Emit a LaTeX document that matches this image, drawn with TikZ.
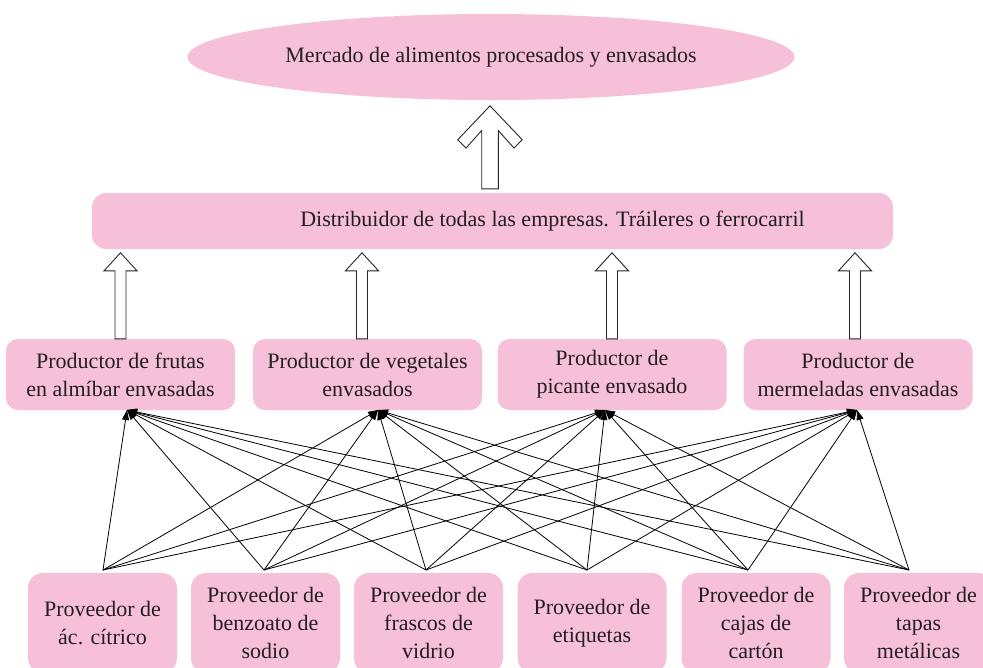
\documentclass[tikz,border=0pt]{standalone}
\usepackage{fontspec}
\setmainfont{LiberationSerif}[Extension=.ttf, UprightFont=*-Regular, BoldFont=*-Bold, ItalicFont=*-Italic, BoldItalicFont=*-BoldItalic]
\usepackage{tikz}
\usetikzlibrary{calc,positioning,arrows.meta,shapes.geometric}
\definecolor{pinkbox}{RGB}{246,192,217}
\definecolor{inkgray}{RGB}{35,31,32}

\begin{document}
\begin{tikzpicture}[x=1pt, y=-1pt,
	every node/.style={text=inkgray, font=\fontsize{22}{28}\selectfont, inner sep=0pt, align=center},
	market/.style={ellipse, fill=pinkbox, minimum width=607pt, minimum height=86pt},
	distbox/.style={rectangle, rounded corners=14pt, fill=pinkbox, minimum width=801pt, minimum height=56pt},
	prodbox/.style={rectangle, rounded corners=12pt, fill=pinkbox, minimum width=229pt, minimum height=71pt},
	suppbox/.style={rectangle, rounded corners=15pt, fill=pinkbox, minimum width=149pt, minimum height=100pt},
	feed/.style={draw=black, line width=0.8pt, -{Triangle[length=10pt,width=7pt]}},
	hollow/.style={draw=black!85, fill=white, line width=0.9pt, line join=miter},
	smallup/.pic={\path[hollow] (-5.5,0) -- (-5.5,-68) -- (-16.5,-68) -- (0,-86) -- (16.5,-68) -- (5.5,-68) -- (5.5,0) -- cycle;},
	bigup/.pic={\path[hollow] (-8.3,0) -- (-8.3,-58.3) -- (-24,-40.7) -- (-32.3,-49) -- (0,-83) -- (32.3,-49) -- (24,-40.7) -- (8.3,-58.3) -- (8.3,0) -- cycle;}
]
	\useasboundingbox (0,0) rectangle (983,667);
	\clip (0,0) rectangle (983,667);

	\node[market] (market) at (491,57) {Mercado de alimentos procesados y envasados};

	\node[distbox] (dist) at (492.5,221) {};
	\node (distlabel) at (552.5,221) {Distribuidor de todas las empresas. Tráileres o ferrocarril};

	\node[prodbox] (p1) at (120.5,374.5) {Productor de frutas\\en almíbar envasadas};
	\node[prodbox] (p2) at (367.5,374.5) {Productor de vegetales\\envasados};
	\node[prodbox] (p3) at (612,374.5)   {Productor de\\picante envasado};
	\node[prodbox] (p4) at (858,374.5)   {Productor de\\mermeladas envasadas};

	\node[suppbox] (s1) at (102.5,623) {Proveedor de\\ác. cítrico};
	\node[suppbox] (s2) at (265.5,623) {Proveedor de\\benzoato de\\sodio};
	\node[suppbox] (s3) at (428.5,623) {Proveedor de\\frascos de\\vidrio};
	\node[suppbox] (s4) at (592,623)   {Proveedor de\\etiquetas};
	\node[suppbox] (s5) at (756,623)   {Proveedor de\\cajas de\\cartón};
	\node[suppbox] (s6) at (918.5,623) {Proveedor de\\tapas\\metálicas};

	\pic at ([xshift=-2.5pt,yshift=4pt]dist.north) {bigup};
	\pic at (p1.north) {smallup};
	\pic at ([xshift=-5.5pt]p2.north) {smallup};
	\pic at (p3.north) {smallup};
	\pic at ([xshift=-3pt]p4.north) {smallup};

	\coordinate (in1) at (127,410);
	\coordinate (in2) at (378,410);
	\coordinate (in3) at (605,410);
	\coordinate (in4) at (857,410);

	\coordinate (out1) at (103,570);
	\coordinate (out2) at (264,570);
	\coordinate (out3) at (426,570);
	\coordinate (out4) at (587,570);
	\coordinate (out5) at (748,570);
	\coordinate (out6) at (909,570);

	\foreach \i in {1,...,6}
		\foreach \j in {1,...,4}
			\draw[feed] (out\i) -- (in\j);
\end{tikzpicture}
\end{document}
